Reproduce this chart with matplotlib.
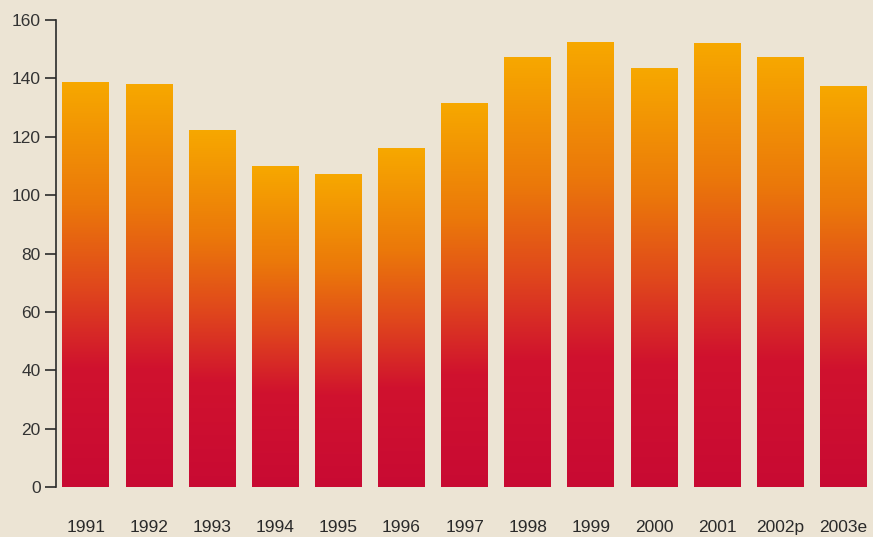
import matplotlib.pyplot as plt
import numpy as np
from matplotlib.colors import LinearSegmentedColormap

years = ['1991', '1992', '1993', '1994', '1995', '1996', '1997',
         '1998', '1999', '2000', '2001', '2002p', '2003e']
values = [138.7, 138, 122.3, 110, 107.2, 116, 131.5,
          147.3, 152.4, 143.5, 152, 147.3, 137.3]
yticks = [0, 20, 40, 60, 80, 100, 120, 140, 160]

plt.rcParams['font.family'] = ['Liberation Sans', 'DejaVu Sans']

bg = '#ece4d4'
# bottom -> top colours of the bar gradient
grad = LinearSegmentedColormap.from_list(
    'bars', [(0.0, '#c80a33'), (0.3, '#d0122e'), (0.5, '#e0481c'),
             (0.7, '#eb780a'), (1.0, '#f7a800')])

fig = plt.figure(figsize=(8.73, 5.37), dpi=100, facecolor=bg)
ax = fig.add_axes([0.064, 0.093, 0.936, 0.8698])
ax.set_facecolor(bg)

x = np.arange(len(years))
bars = ax.bar(x, values, width=0.74, facecolor='none', edgecolor='none')

g = np.linspace(0, 1, 256).reshape(-1, 1)
for b in bars:
    x0, y0 = b.get_x(), b.get_y()
    w, h = b.get_width(), b.get_height()
    im = ax.imshow(g, cmap=grad, origin='lower', aspect='auto',
                   extent=[x0, x0 + w, y0 - 1, y0 + h], zorder=2)
    im.set_clip_path(b)
    b.set_clip_on(False)

ax.set_xlim(-0.475, 12.47)
ax.set_ylim(0, 160)
ax.set_yticks(yticks)
ax.set_xticks(x)
ax.set_xticklabels(years)

for s in ['top', 'right', 'bottom']:
    ax.spines[s].set_visible(False)
ax.spines['left'].set_color('#2a2a2a')
ax.spines['left'].set_linewidth(1.2)

ax.tick_params(axis='y', length=8, width=1.2, color='#2a2a2a',
               labelsize=12.5, labelcolor='#333333', pad=3)
ax.tick_params(axis='x', length=0, labelsize=12.5, labelcolor='#2a2a2a', pad=24)

fig.savefig('out.png', dpi=100, facecolor=bg)
